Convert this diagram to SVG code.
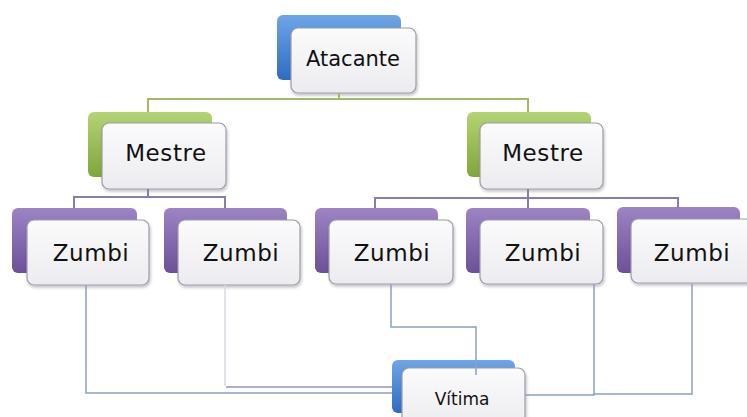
<svg xmlns="http://www.w3.org/2000/svg" width="747" height="417" viewBox="0 0 747 417">
<defs>
  <linearGradient id="gBlue" x1="0" y1="0" x2="0" y2="1">
    <stop offset="0" stop-color="#6ea6e6"/><stop offset="1" stop-color="#2f6cc2"/>
  </linearGradient>
  <linearGradient id="gGreen" x1="0" y1="0" x2="0" y2="1">
    <stop offset="0" stop-color="#b4d474"/><stop offset="1" stop-color="#7ea63a"/>
  </linearGradient>
  <linearGradient id="gPurple" x1="0" y1="0" x2="0" y2="1">
    <stop offset="0" stop-color="#9d84c4"/><stop offset="1" stop-color="#6c5099"/>
  </linearGradient>
  <linearGradient id="gFront" x1="0" y1="0" x2="0" y2="1">
    <stop offset="0" stop-color="#fbfbfc"/><stop offset="1" stop-color="#ececf0"/>
  </linearGradient>
  <filter id="sh" x="-10%" y="-10%" width="130%" height="130%">
    <feDropShadow dx="1" dy="2" stdDeviation="1.5" flood-color="#000" flood-opacity="0.25"/>
  </filter>
</defs>
<style>
  .back { stroke: none; }
  .blue { fill: url(#gBlue); }
  .green { fill: url(#gGreen); }
  .purple { fill: url(#gPurple); }
  .front { fill: url(#gFront); stroke: #9c9cab; stroke-width: 1.2; filter: url(#sh); }
  .t { font-family: "DejaVu Sans", Verdana, sans-serif; fill: #111111; text-anchor: middle; }
  .a { font-size: 21px; }
  .big { font-size: 23px; letter-spacing: 0.6px; }
  .small { font-size: 17px; }
  .lg { stroke: #a2b86a; stroke-width: 2; fill: none; }
  .lp { stroke: #8a7cab; stroke-width: 2; fill: none; }
  .lb { stroke: #8c9fc8; stroke-width: 1.5; fill: none; }
  .lf { stroke: #d8dbe6; stroke-width: 1.5; fill: none; }
  .lgr { stroke: #a9b1c2; stroke-width: 2; fill: none; }
</style>
<rect width="747" height="417" fill="#ffffff"/>

<g id="atacante">
  <rect class="back blue" x="277" y="15" width="124" height="65" rx="6"/>
  <rect class="front" x="291" y="28" width="125" height="65" rx="7"/>
  <text class="t a" x="353" y="66">Atacante</text>
</g>

<g id="mestre1">
  <rect class="back green" x="88" y="112" width="124" height="65" rx="6"/>
  <rect class="front" x="102" y="123" width="124" height="66" rx="7"/>
  <text class="t big" x="166" y="161">Mestre</text>
</g>

<g id="mestre2">
  <rect class="back green" x="467" y="112" width="124" height="65" rx="6"/>
  <rect class="front" x="480" y="123" width="123" height="66" rx="7"/>
  <text class="t big" x="543" y="161">Mestre</text>
</g>

<g id="zumbi1">
  <rect class="back purple" x="12" y="208" width="125" height="65" rx="6"/>
  <rect class="front" x="27" y="220" width="122" height="65" rx="7"/>
  <text class="t big" x="91" y="261">Zumbi</text>
</g>

<g id="zumbi2">
  <rect class="back purple" x="164" y="208" width="123" height="65" rx="6"/>
  <rect class="front" x="178" y="220" width="122" height="65" rx="7"/>
  <text class="t big" x="241" y="261">Zumbi</text>
</g>

<g id="zumbi3">
  <rect class="back purple" x="315" y="208" width="123" height="65" rx="6"/>
  <rect class="front" x="329" y="220" width="124" height="64" rx="7"/>
  <text class="t big" x="392" y="261">Zumbi</text>
</g>

<g id="zumbi4">
  <rect class="back purple" x="466" y="208" width="124" height="65" rx="6"/>
  <rect class="front" x="480" y="220" width="123" height="64" rx="7"/>
  <text class="t big" x="543" y="261">Zumbi</text>
</g>

<g id="zumbi5">
  <rect class="back purple" x="617" y="207" width="123" height="66" rx="6"/>
  <rect class="front" x="631" y="219" width="122" height="64" rx="7"/>
  <text class="t big" x="692" y="261">Zumbi</text>
</g>

<g id="vitima">
  <rect class="back blue" x="392" y="360" width="123" height="53" rx="6"/>
  <rect class="front" x="402" y="368" width="123" height="60" rx="7"/>
  <text class="t small" x="462" y="405">Vítima</text>
</g>

<g id="connectors">
  <polyline class="lg" points="339,93 339,99"/>
  <polyline class="lg" points="148,112 148,99 528,99 528,112"/>
  <polyline class="lp" points="148,189 148,197"/>
  <polyline class="lp" points="74,208 74,197 225,197 225,208"/>
  <polyline class="lp" points="528,189 528,198"/>
  <polyline class="lp" points="375,208 375,198 678,198 678,208"/>
  <line class="lp" x1="528" y1="198" x2="528" y2="208"/>
  <polyline class="lb" points="86,285 86,393 392,393"/>
  <polyline class="lf" points="225,285 225,386"/>
  <polyline class="lgr" points="226,387 392,387"/>
  <polyline class="lb" points="391,284 391,327 476,327 476,375"/>
  <polyline class="lb" points="594,284 594,395 525,395"/>
  <polyline class="lb" points="692,284 692,394 594,394"/>
</g>
</svg>
